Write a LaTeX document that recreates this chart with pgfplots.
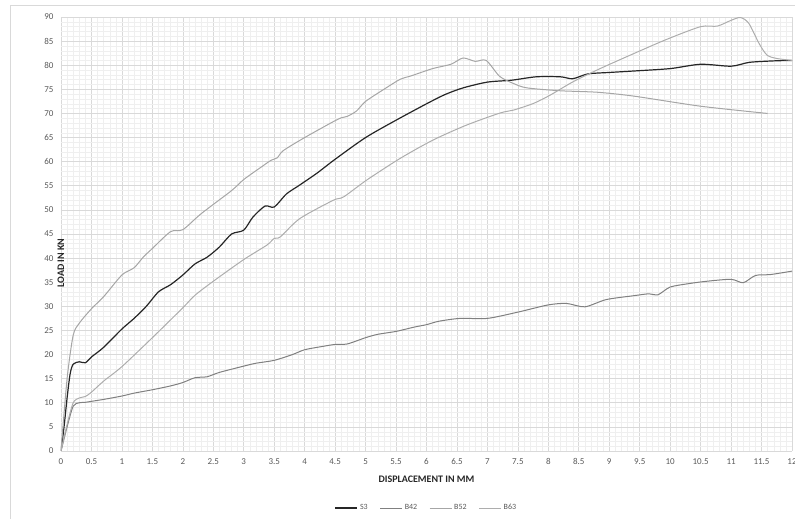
\documentclass[border=0pt]{standalone}
\usepackage{pgfplots}
\pgfplotsset{compat=1.18}
\usepackage{fontspec}
\setmainfont{Carlito}
\definecolor{cS}{HTML}{262626}
\definecolor{cB42}{HTML}{808080}
\definecolor{cB52}{HTML}{A6A6A6}
\definecolor{cB63}{HTML}{ADADAD}
\definecolor{tick}{HTML}{595959}
\definecolor{majg}{HTML}{D9D9D9}
\definecolor{ming}{HTML}{EFEFEF}
\begin{document}
\begin{tikzpicture}
\useasboundingbox (-61pt,-68pt) rectangle (734pt,451pt);
\draw[majg, line width=0.8pt] (-51pt,-90pt) -- (-51pt,446pt) -- (800pt,446pt);
\begin{axis}[
  at={(0pt,0pt)}, anchor=south west,
  scale only axis, width=731pt, height=434pt,
  xmin=0, xmax=12, ymin=0, ymax=90,
  xtick={0,0.5,...,12}, ytick={0,5,...,90},
  minor x tick num=4, minor y tick num=4,
  grid=both,
  major grid style={majg, line width=0.6pt},
  minor grid style={ming, line width=0.4pt},
  major tick length=0pt, minor tick length=0pt,
  axis line style={draw=none},
  /pgf/number format/assume math mode=true,
  tick label style={font=\fontsize{9}{10}\selectfont, text=tick},
  xticklabel style={yshift=-4pt},
  yticklabel style={xshift=-4pt},
  xlabel={\textbf{DISPLACEMENT IN MM}},
  ylabel={\textbf{LOAD IN KN}},
  xlabel style={at={(axis description cs:0.5,0)}, anchor=center, yshift=-28pt, font=\fontsize{10}{12}\selectfont, text=cS},
  ylabel style={at={(axis description cs:0,0.5)}, anchor=center, rotate=0, xshift=-29pt, font=\fontsize{10}{12}\selectfont, text=cS},
  legend style={at={(axis description cs:0.5,0)}, anchor=center, yshift=-57pt, draw=none, fill=none,
    font=\fontsize{8}{9}\selectfont, text=tick, legend columns=4,
    /tikz/every even column/.append style={column sep=10pt}},
  legend image code/.code={\draw[#1] (0pt,0pt) -- (22pt,0pt);},
  every axis plot/.append style={smooth, tension=0.45},
]
\addplot[cS, line width=1.2pt] coordinates {
(0,0) (0.05,5) (0.1,11) (0.15,16) (0.2,18) (0.3,18.5) (0.4,18.3) (0.5,19.5) (0.7,21.5)
(1.0,25.3) (1.2,27.5) (1.4,30) (1.6,33) (1.8,34.5) (2.0,36.5) (2.2,38.8) (2.4,40.2)
(2.6,42.3) (2.8,45) (3.0,45.8) (3.15,48.5) (3.35,50.8) (3.5,50.6) (3.7,53.3) (3.9,55)
(4.2,57.6) (4.5,60.5) (5.0,65) (5.5,68.6) (6.0,72) (6.3,73.9) (6.6,75.3) (7.0,76.5)
(7.4,76.9) (7.8,77.6) (8.2,77.6) (8.4,77.2) (8.65,78.2) (9.0,78.5) (9.4,78.8) (10.0,79.3)
(10.5,80.2) (11.0,79.8) (11.3,80.6) (11.7,80.9) (12.0,81.0)};
\addlegendentry{S3}
\addplot[cB42, line width=1pt] coordinates {
(0,0) (0.1,5) (0.2,9.3) (0.3,10) (0.4,10.1) (0.5,10.3) (0.7,10.7) (1.0,11.4) (1.2,12)
(1.5,12.7) (1.8,13.5) (2.0,14.2) (2.2,15.2) (2.4,15.4) (2.6,16.3) (3.0,17.6) (3.2,18.2)
(3.5,18.8) (3.8,20) (4.0,21) (4.3,21.7) (4.5,22.1) (4.7,22.2) (5.0,23.5) (5.2,24.2)
(5.5,24.8) (5.8,25.7) (6.0,26.2) (6.2,26.9) (6.55,27.5) (7.0,27.5) (7.5,28.8) (8.0,30.3)
(8.3,30.6) (8.6,29.9) (8.95,31.4) (9.4,32.2) (9.65,32.6) (9.8,32.4) (10.0,34.0) (10.3,34.7)
(10.6,35.2) (11.0,35.6) (11.2,34.9) (11.4,36.4) (11.65,36.6) (12.0,37.3)};
\addlegendentry{B42}
\addplot[cB52, line width=1pt] coordinates {
(0,0) (0.1,15) (0.2,24) (0.3,26.5) (0.5,29.5) (0.7,32) (1.0,36.5) (1.2,38) (1.35,40.2)
(1.5,42) (1.8,45.5) (2.0,45.9) (2.3,49.2) (2.8,54) (3.0,56.3) (3.3,59) (3.45,60.3)
(3.55,60.8) (3.65,62.3) (4.0,65) (4.47,68.3) (4.6,69.1) (4.7,69.4) (4.85,70.5) (5.0,72.5)
(5.3,75) (5.57,77.1) (5.75,77.8) (6.1,79.3) (6.4,80.2) (6.6,81.5) (6.8,80.8) (6.98,81.0)
(7.2,77.7) (7.43,76.2) (7.65,75.3) (8.2,74.7) (8.8,74.4) (9.4,73.6) (10.5,71.5) (11.6,70.0)};
\addlegendentry{B52}
\addplot[cB63, line width=1pt] coordinates {
(0,0) (0.1,5.5) (0.2,10) (0.3,11) (0.4,11.3) (0.5,12.2) (0.7,14.5) (1.0,17.5) (1.5,23.5)
(2.0,29.7) (2.2,32.3) (2.5,35.2) (3.0,39.7) (3.38,42.7) (3.5,44.1) (3.6,44.4) (3.92,48.2)
(4.47,52.0) (4.64,52.7) (5.02,56.2) (5.57,60.7) (6.11,64.5) (6.66,67.6) (7.21,70.1)
(7.43,70.7) (7.76,72.1) (8.03,73.8) (8.41,76.6) (8.85,79.3) (9.4,82.4) (9.95,85.4)
(10.5,88.0) (10.77,88.1) (10.98,89.2) (11.15,89.9) (11.29,88.7) (11.46,84.5) (11.59,82.1)
(11.75,81.4) (12.0,81.0)};
\addlegendentry{B63}
\end{axis}
\end{tikzpicture}
\end{document}
